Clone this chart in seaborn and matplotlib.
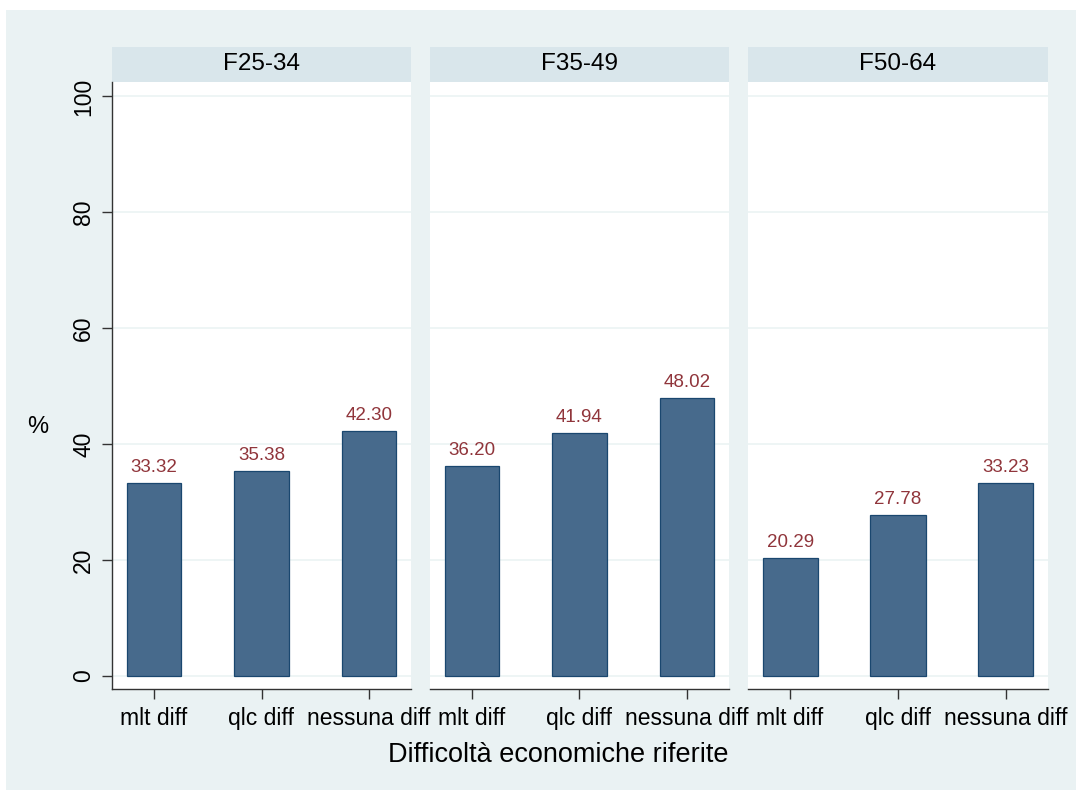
import matplotlib
matplotlib.use("Agg")
import matplotlib.pyplot as plt
import numpy as np
import pandas as pd
import seaborn as sns
from matplotlib.patches import Rectangle

# data
groups = ["F25-34", "F35-49", "F50-64"]
categories = ["mlt diff", "qlc diff", "nessuna diff"]
f25_34 = [33.32, 35.38, 42.30]
f35_49 = [36.20, 41.94, 48.02]
f50_64 = [20.29, 27.78, 33.23]

df = pd.DataFrame({
    "gruppo": np.repeat(groups, len(categories)),
    "diff": categories * len(groups),
    "pct": f25_34 + f35_49 + f50_64,
})

sns.set_style("white")
plt.rcParams["font.family"] = ["Liberation Sans", "DejaVu Sans"]
plt.rcParams["text.color"] = "black"
plt.rcParams["xtick.color"] = "black"
plt.rcParams["ytick.color"] = "black"

W, H = 1076, 790
fig = plt.figure(figsize=(W / 100, H / 100), dpi=100)
fig.patch.set_facecolor("white")
fig.patches.append(Rectangle((6 / W, 0), 1, 1 - 10 / H, transform=fig.transFigure,
                             facecolor="#EAF2F3", edgecolor="none", zorder=-10))

bar_col = "#476A8C"
edge_col = "#1A476F"
lab_col = "#90353B"
strip_col = "#D9E6EB"
grid_col = "#EAF2F3"

panels_x = [(112, 411), (430, 729), (748, 1048)]
top, bottom = 82, 689

for i, (g, (l, r)) in enumerate(zip(groups, panels_x)):
    ax = fig.add_axes([l / W, 1 - bottom / H, (r - l) / W, (bottom - top) / H])
    ax.set_facecolor("white")
    sub = df[df["gruppo"] == g]
    sns.barplot(data=sub, x="diff", y="pct", order=categories, color=bar_col,
                saturation=1, width=0.51, edgecolor=edge_col, linewidth=0.9,
                errorbar=None, ax=ax)
    for c in ax.containers:
        ax.bar_label(c, fmt="%.2f", padding=5, color=lab_col, fontsize=13.5)
    ax.set_xlim(-0.39, 2.39)
    ax.set_ylim(-2.3, 102.5)
    ax.set_yticks([0, 20, 40, 60, 80, 100])
    ax.set_axisbelow(True)
    ax.grid(axis="y", color=grid_col, linewidth=1.1)
    ax.grid(axis="x", visible=False)
    for s in ["top", "right"]:
        ax.spines[s].set_visible(False)
    ax.spines["bottom"].set_color("#333333")
    ax.spines["bottom"].set_linewidth(1.0)
    ax.tick_params(axis="x", bottom=True, length=7, width=1, color="#333333",
                   labelsize=16.5, pad=6, labelcolor="black")
    ax.set_xlabel("")
    if i == 0:
        ax.spines["left"].set_color("#333333")
        ax.spines["left"].set_linewidth(1.0)
        ax.tick_params(axis="y", left=True, length=7, width=1, color="#333333",
                       labelsize=16.5, pad=5, labelcolor="black")
        for t in ax.get_yticklabels():
            t.set_rotation(90)
            t.set_va("center")
        ax.set_ylabel("")
    else:
        ax.spines["left"].set_visible(False)
        ax.tick_params(axis="y", left=False, labelleft=False)
        ax.set_ylabel("")
    sh = 35 / (bottom - top)
    ax.add_patch(Rectangle((0, 1), 1, sh, transform=ax.transAxes, clip_on=False,
                           facecolor=strip_col, edgecolor="none"))
    ax.text(0.5, 1 + sh / 2, g, transform=ax.transAxes, ha="center", va="center",
            fontsize=17.5, color="black")

fig.text(38 / W, 1 - 427 / H, "%", ha="center", va="center", fontsize=17, color="black")
fig.text(558 / W, 1 - 755 / H, "Difficoltà economiche riferite", ha="center",
         va="center", fontsize=19.5, color="black")

fig.savefig("out.png", dpi=100, facecolor=fig.get_facecolor())
